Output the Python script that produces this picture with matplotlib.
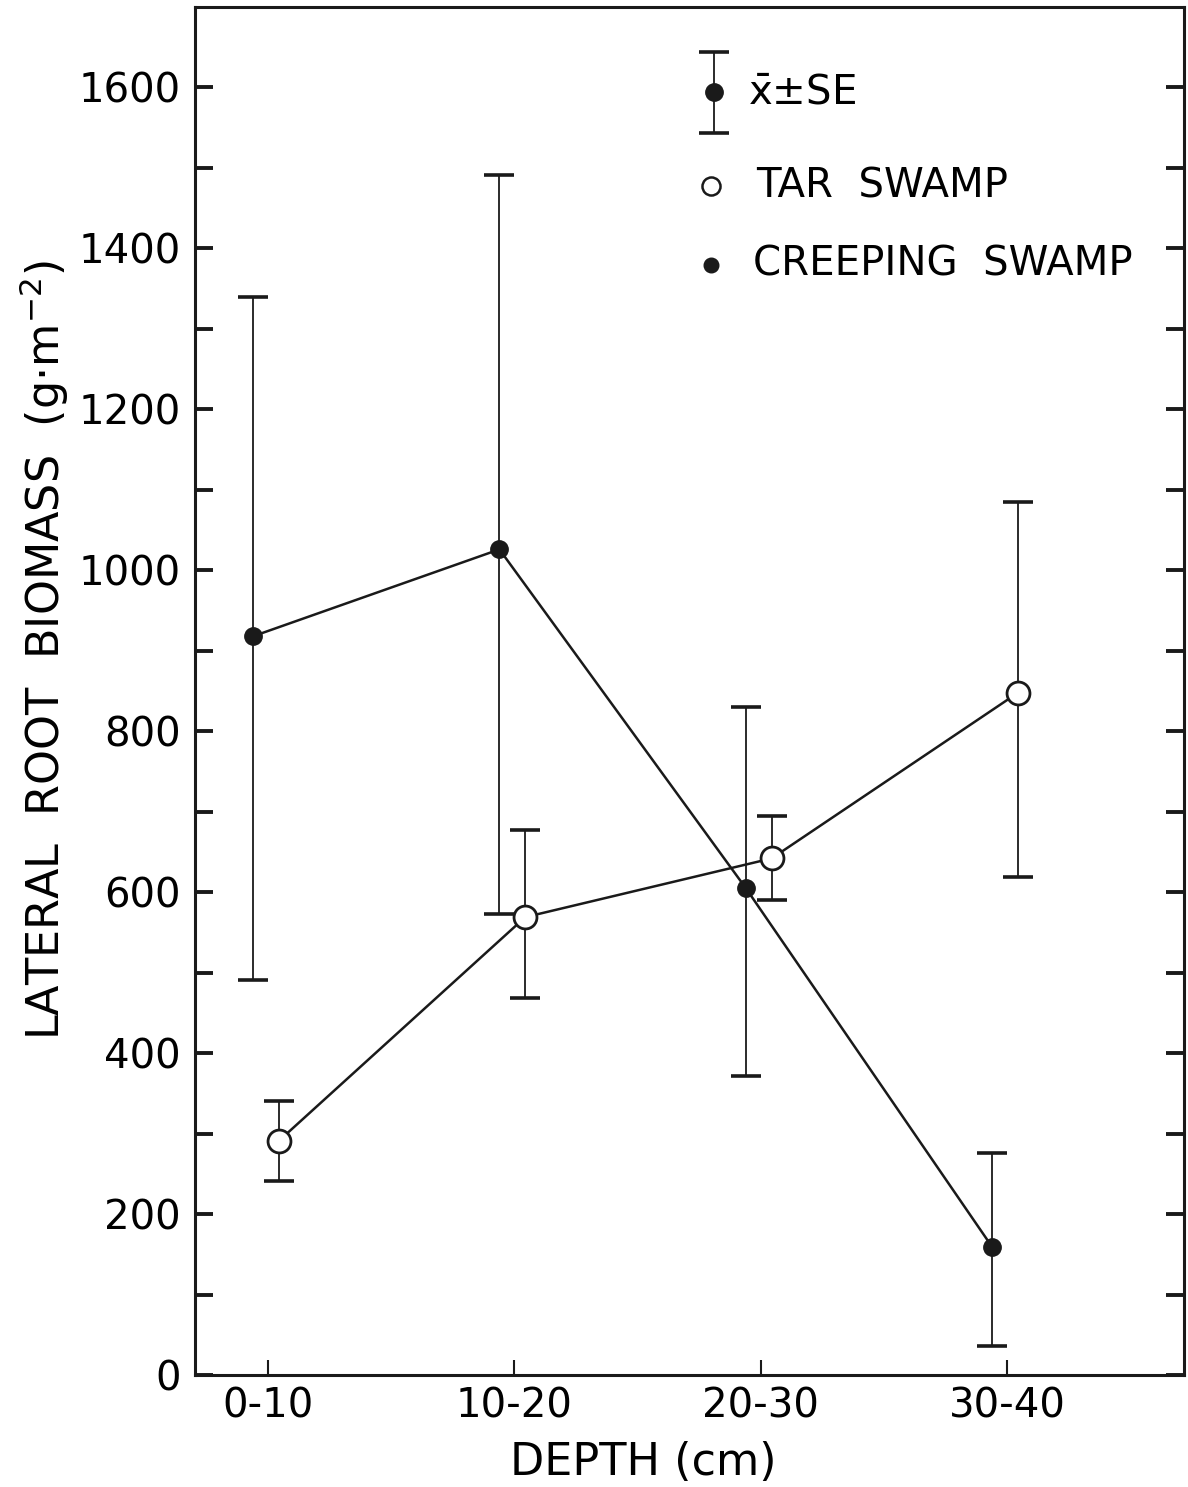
import matplotlib.pyplot as plt

# depth classes
depths = ['0-10', '10-20', '20-30', '30-40']
pos = [1, 2, 3, 4]

# tar swamp (open circles)
tar_mean = [291, 569, 642, 848]
tar_lo = [241, 468, 590, 619]
tar_hi = [340, 677, 695, 1085]

# creeping swamp (filled circles)
creep_mean = [918, 1026, 605, 159]
creep_lo = [491, 573, 371, 36]
creep_hi = [1339, 1491, 830, 276]

plt.rcParams['font.family'] = ['DejaVu Sans']

fig = plt.figure(figsize=(11.88, 14.87), dpi=100)
ax = fig.add_axes([0.164, 0.0753, 0.8326, 0.92])

ebkw = dict(ecolor='#1a1a1a', elinewidth=1.3, capsize=11, capthick=2.6)

x_c = [p - 0.06 for p in pos]
ax.errorbar(x_c, creep_mean,
            yerr=[[m - l for m, l in zip(creep_mean, creep_lo)],
                  [h - m for m, h in zip(creep_mean, creep_hi)]],
            fmt='none', **ebkw)
ax.plot(x_c, creep_mean, color='#1a1a1a', lw=1.8, marker='o', ms=12.5,
        mfc='#1a1a1a', mec='#1a1a1a', zorder=3)

x_t = [p + 0.045 for p in pos]
ax.errorbar(x_t, tar_mean,
            yerr=[[m - l for m, l in zip(tar_mean, tar_lo)],
                  [h - m for m, h in zip(tar_mean, tar_hi)]],
            fmt='none', **ebkw)
ax.plot(x_t, tar_mean, color='#1a1a1a', lw=1.8, marker='o', ms=16.5,
        mfc='white', mec='#1a1a1a', mew=2, zorder=4)

ax.set_xlim(0.704, 4.718)
ax.set_ylim(0, 1700)
ax.set_xticks(pos)
ax.set_xticklabels(depths)
ax.set_yticks(range(0, 1700, 200))
ax.set_yticks(range(100, 1700, 200), minor=True)

ax.tick_params(axis='y', which='both', direction='in', length=13, width=2.8,
               right=True, labelsize=29, pad=10, color='#1a1a1a')
ax.tick_params(axis='x', direction='in', length=11, width=1.5,
               labelsize=29, pad=8, color='#1a1a1a')
for s in ax.spines.values():
    s.set_linewidth(2.2)
    s.set_color('#1a1a1a')

ax.set_xlabel('DEPTH (cm)', fontsize=32, labelpad=10)
ax.xaxis.set_label_coords(0.453, -0.048)
ax.set_ylabel('LATERAL  ROOT  BIOMASS  (g·m$^{\\mathregular{-2}}$)', fontsize=32)
ax.yaxis.set_label_coords(-0.125, 0.53)

# legend drawn by hand
ax.errorbar([2.81], [1594], yerr=[[50], [50]], fmt='o', ms=12.5,
            color='#1a1a1a', **ebkw)
ax.text(2.95, 1594, '$\\bar{\\mathregular{x}}$±SE', fontsize=29, va='center')
ax.plot([2.80], [1477], marker='o', ms=13, mfc='white', mec='#1a1a1a', mew=1.8)
ax.text(2.98, 1477, 'TAR  SWAMP', fontsize=29, va='center')
ax.plot([2.80], [1380], marker='o', ms=10.5, color='#1a1a1a')
ax.text(2.97, 1380, 'CREEPING  SWAMP', fontsize=29, va='center')

fig.savefig('out.png', dpi=100)
